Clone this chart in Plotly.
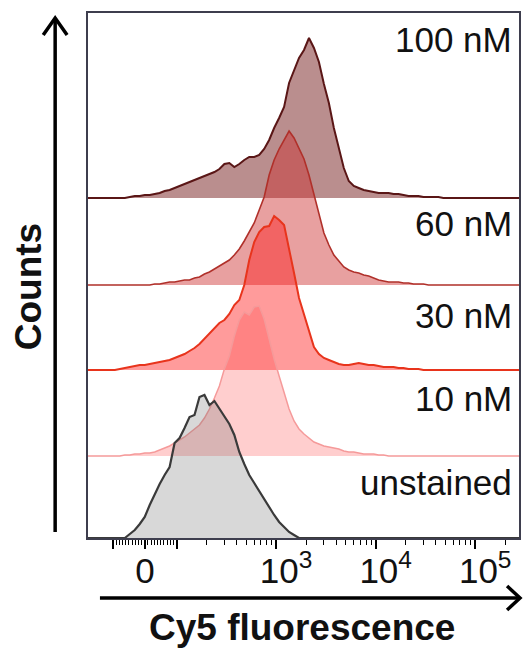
import numpy as np
import plotly.graph_objects as go

# ---------------- data ----------------
# histogram bins, positioned on the biexponential display scale (decades; 0 -> value 0)
BINS = np.round(np.linspace(-0.6, 3.8, 89), 3)

SAMPLES = ["100 nM", "60 nM", "30 nM", "10 nM", "unstained"]

COUNTS_100NM = [0, 0, 0, 0, 0, 0, 0, 0, 0,
                1, 2, 2, 3, 3, 4, 5, 7, 8, 10,
                12, 14, 16, 18, 20, 22, 24, 26, 29, 34,
                35, 31, 34, 38, 41, 41, 43, 49, 58, 70,
                80, 91, 115, 128, 140, 148, 160, 150, 136, 114,
                95, 70, 50, 30, 17, 12, 10, 8, 7, 6,
                5, 5, 5, 4, 4, 3, 2, 2, 2, 1,
                1, 1, 1, 0, 0, 0, 0, 0, 0, 0,
                0, 0, 0, 0, 0, 0, 0, 0, 0, 0]
COUNTS_60NM = [0, 0, 0, 0, 0, 0, 0, 0, 0,
               0, 0, 0, 0, 0, 1, 1, 2, 3, 3,
               4, 5, 5, 7, 8, 11, 13, 16, 19, 22,
               25, 30, 36, 44, 53, 62, 75, 88, 110, 125,
               136, 145, 154, 147, 137, 126, 110, 90, 70, 52,
               40, 30, 24, 18, 15, 13, 12, 10, 9, 7,
               5, 4, 3, 3, 3, 2, 2, 1, 1, 1,
               0, 0, 0, 0, 0, 0, 0, 0, 0, 0,
               0, 0, 0, 0, 0, 0, 0, 0, 0, 0]
COUNTS_30NM = [0, 0, 0, 0, 0, 0, 0, 1, 2,
               3, 4, 5, 5, 6, 7, 8, 9, 10, 12,
               14, 16, 19, 22, 26, 31, 36, 41, 47, 50,
               56, 65, 70, 85, 110, 128, 138, 143, 144, 154,
               150, 145, 122, 97, 72, 55, 38, 23, 16, 12,
               10, 8, 6, 5, 5, 6, 7, 6, 5, 5,
               4, 3, 3, 3, 2, 2, 1, 1, 1, 0,
               0, 0, 0, 0, 0, 0, 0, 0, 0, 0,
               0, 0, 0, 0, 0, 0, 0, 0, 0, 0]
COUNTS_10NM = [0, 0, 0, 0, 0, 0, 0, 0, 1,
               1, 2, 2, 3, 3, 4, 6, 8, 10, 13,
               16, 19, 23, 27, 31, 38, 47, 58, 70, 87,
               100, 120, 136, 144, 141, 149, 150, 137, 116, 97,
               80, 63, 47, 35, 27, 22, 18, 14, 12, 10,
               9, 8, 7, 5, 4, 4, 3, 2, 2, 2,
               1, 1, 0, 0, 0, 0, 0, 0, 0, 0,
               0, 0, 0, 0, 0, 0, 0, 0, 0, 0,
               0, 0, 0, 0, 0, 0, 0, 0, 0, 0]
COUNTS_UNSTAINED = [0, 0, 0, 0, 0, 0, 0, 0, 0,
                    4, 8, 14, 21, 33, 44, 54, 63, 71, 95,
                    100, 110, 121, 123, 141, 143, 133, 137, 129, 122,
                    114, 103, 86, 74, 63, 55, 47, 38, 30, 23,
                    16, 11, 6, 3, 0, 0, 0, 0, 0, 0,
                    0, 0, 0, 0, 0, 0, 0, 0, 0, 0,
                    0, 0, 0, 0, 0, 0, 0, 0, 0, 0,
                    0, 0, 0, 0, 0, 0, 0, 0, 0, 0,
                    0, 0, 0, 0, 0, 0, 0, 0, 0, 0]
SERIES = [COUNTS_100NM, COUNTS_60NM, COUNTS_30NM, COUNTS_10NM, COUNTS_UNSTAINED]
OFFSETS = [340, 253, 168, 82, 0]           # stacking offsets (count units)
LABEL_Y = [499, 315, 223, 140, 56]         # label heights (count units)

MAJOR_TICK_VALUES = [-100, 0, 100, 1e3, 1e4, 1e5]
MAJOR_TICK_LABELS = ["", "0\u00a0\u00a0", "", "10<sup>3</sup>", "10<sup>4</sup>", "10<sup>5</sup>"]
MINOR_TICK_VALUES = ([-k * 10 for k in range(1, 10)] + [k * 10 for k in range(1, 10)] +
                     [k * 100 for k in range(2, 10)] + [k * 1000 for k in range(2, 10)] +
                     [k * 10000 for k in range(2, 10)] + [200000])

FILLS = ["rgba(118,30,30,0.5)", "rgba(204,44,44,0.45)", "rgba(255,17,17,0.42)",
         "rgba(255,60,60,0.25)", "rgba(110,110,110,0.27)"]
LINES = ["#5a1616", "#b0302a", "#e8341c", "#f59a9a", "#3a3a3a"]
WIDTHS = [2, 1.6, 2, 1.5, 2.2]


def display(v):
    """biexponential-like display transform: linear below |100|, log above."""
    a = 0.32
    if abs(v) <= 100:
        return a * v / 100.0
    return float(np.sign(v) * (a + np.log10(abs(v) / 100.0)))


for s in SERIES:
    assert len(s) == len(BINS)

fig = go.Figure()
bins = list(BINS)
for name, counts, off, fc, lc, lw in zip(SAMPLES, SERIES, OFFSETS, FILLS, LINES, WIDTHS):
    yv = [off + c for c in counts]
    fig.add_trace(go.Scatter(x=bins + [bins[-1], bins[0]], y=yv + [off, off],
                             fill="toself", fillcolor=fc, mode="none",
                             hoverinfo="skip", showlegend=False))
    fig.add_trace(go.Scatter(x=bins, y=yv, mode="lines", name=name,
                             line=dict(color=lc, width=lw), showlegend=False))

FONT = "Liberation Sans, Arial, sans-serif"
frame = "#3e3e4e"

fig.update_xaxes(range=[-0.57, 3.76], showgrid=False, zeroline=False,
                 showline=True, mirror=True, linecolor=frame, linewidth=2,
                 tickmode="array",
                 tickvals=[display(v) for v in MAJOR_TICK_VALUES],
                 ticktext=MAJOR_TICK_LABELS,
                 ticks="outside", ticklen=9, tickwidth=1.5, tickcolor="black",
                 ticklabelshift=10, ticklabelstandoff=-8,
                 tickfont=dict(family=FONT, size=35, color="#111"),
                 minor=dict(tickmode="array",
                            tickvals=[display(v) for v in MINOR_TICK_VALUES],
                            ticks="outside", ticklen=5, tickwidth=1.2,
                            tickcolor="black", showgrid=False))
fig.update_yaxes(range=[0, 525], showgrid=False, zeroline=False,
                 showline=True, mirror=True, linecolor=frame, linewidth=2,
                 showticklabels=False, ticks="")

L, T, W, H = 88, 13, 433, 525


def px(x):
    return (x - L) / W


def py(y):
    return (T + H - y) / H


annotations = []
for name, ly in zip(SAMPLES, LABEL_Y):
    annotations.append(dict(x=px(516), y=ly, xref="paper", yref="y", text=name,
                            showarrow=False, xanchor="right", yanchor="middle",
                            font=dict(family=FONT, size=35, color="#111")))
annotations.append(dict(x=px(28), y=py(287), xref="paper", yref="paper",
                        text="<b>Counts</b>", textangle=-90, showarrow=False,
                        xanchor="center", yanchor="middle",
                        font=dict(family=FONT, size=37, color="#111")))
annotations.append(dict(x=px(303), y=py(627), xref="paper", yref="paper",
                        text="<b>Cy5 fluorescence</b>", showarrow=False,
                        xanchor="center", yanchor="middle",
                        font=dict(family=FONT, size=37, color="#111")))


def path(points):
    return "M " + " L ".join(f"{px(a):.5f},{py(b):.5f}" for a, b in points)


shapes = [
    dict(type="path", xref="paper", yref="paper", path=path([(55, 532), (55, 18)]),
         line=dict(color="black", width=3.5)),
    dict(type="path", xref="paper", yref="paper", path=path([(43, 35), (55, 18), (67, 35)]),
         line=dict(color="black", width=3.5)),
    dict(type="path", xref="paper", yref="paper", path=path([(100, 598), (521, 598)]),
         line=dict(color="black", width=3.5)),
    dict(type="path", xref="paper", yref="paper", path=path([(509, 586), (522, 598), (509, 610)]),
         line=dict(color="black", width=3.5)),
]

fig.update_layout(width=525, height=648, margin=dict(l=L, r=525 - L - W, t=T, b=648 - T - H),
                  paper_bgcolor="white", plot_bgcolor="white",
                  annotations=annotations, shapes=shapes, showlegend=False)

fig.write_html("out.html")
